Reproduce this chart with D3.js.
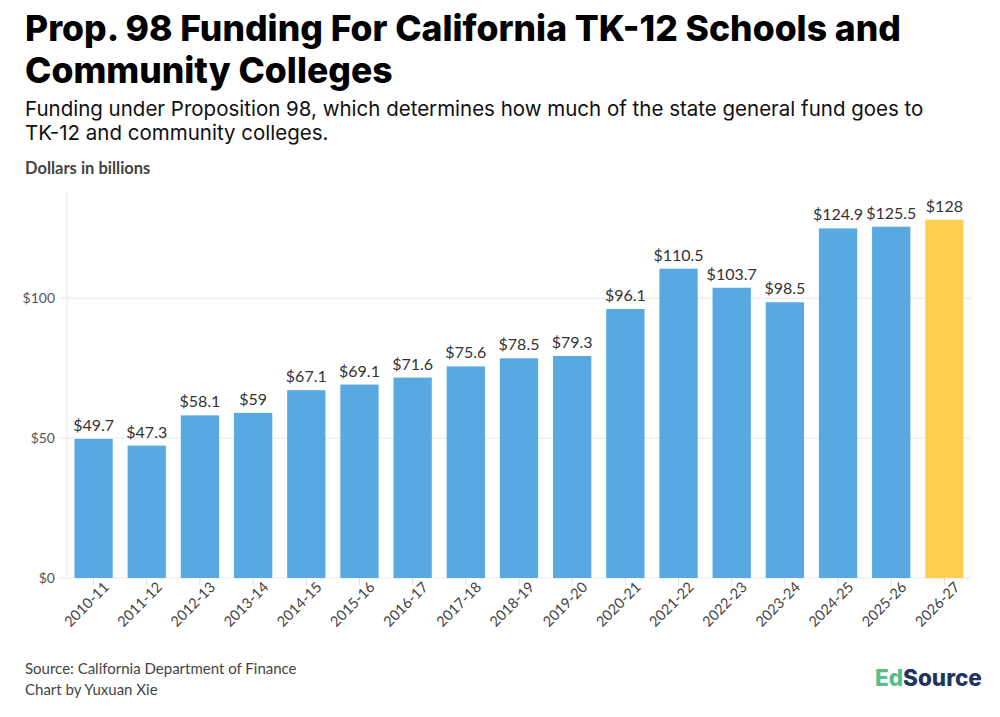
<!DOCTYPE html>
<meta charset="utf-8">
<html>
<head>
    <title>Prop. 98 Funding</title>
    <style>
        body { margin: 0; background: #fff; }
        svg text { font-family: "Lato", sans-serif; }
    </style>
    <script src="https://d3js.org/d3.v7.min.js"></script>
</head>
<body>
    <div id="chart-container"></div>
    <script>
        // data
        const years = ["2010-11", "2011-12", "2012-13", "2013-14", "2014-15", "2015-16", "2016-17",
            "2017-18", "2018-19", "2019-20", "2020-21", "2021-22", "2022-23", "2023-24",
            "2024-25", "2025-26", "2026-27"];
        const funding = [49.7, 47.3, 58.1, 59, 67.1, 69.1, 71.6, 75.6, 78.5, 79.3, 96.1, 110.5,
            103.7, 98.5, 124.9, 125.5, 128];
        const yTicks = [0, 50, 100];

        const data = years.map((y, i) => ({ year: y, value: funding[i] }));

        var width = 1000, height = 717;
        var plot = { left: 67, right: 971, top: 192, bottom: 578 };

        var svg = d3.select("#chart-container")
            .append("svg")
            .attr("width", width)
            .attr("height", height);

        // titles
        var title = svg.append("text")
            .attr("x", 25)
            .style("font-family", "Inter, sans-serif")
            .style("font-weight", 800)
            .style("font-size", "35.5px")
            .attr("fill", "#000");
        title.append("tspan").attr("x", 25).attr("y", 41).text("Prop. 98 Funding For California TK-12 Schools and");
        title.append("tspan").attr("x", 25).attr("y", 83).text("Community Colleges");

        var sub = svg.append("text")
            .style("font-family", "Inter, sans-serif")
            .style("font-size", "20.5px")
            .attr("fill", "#111");
        sub.append("tspan").attr("x", 25).attr("y", 116).text("Funding under Proposition 98, which determines how much of the state general fund goes to");
        sub.append("tspan").attr("x", 25).attr("y", 140).text("TK-12 and community colleges.");

        svg.append("text")
            .attr("x", 25).attr("y", 174)
            .style("font-size", "16.5px")
            .style("font-weight", "bold")
            .attr("fill", "#444")
            .text("Dollars in billions");

        // scales
        var x = d3.scaleBand()
            .domain(years)
            .range([plot.left, plot.right])
            .paddingInner(0.28)
            .paddingOuter(0.14);

        var y = d3.scaleLinear()
            .domain([0, 137.9])
            .range([plot.bottom, plot.top]);

        // gridlines
        svg.append("g")
            .selectAll("line")
            .data(yTicks)
            .enter().append("line")
            .attr("x1", 60).attr("x2", plot.right)
            .attr("y1", d => y(d)).attr("y2", d => y(d))
            .attr("stroke", "#ebebeb")
            .attr("stroke-width", 1.2);

        svg.append("line")
            .attr("x1", plot.left).attr("x2", plot.left)
            .attr("y1", plot.top).attr("y2", plot.bottom)
            .attr("stroke", "#ebebeb")
            .attr("stroke-width", 1.2);

        // y labels
        svg.append("g")
            .selectAll("text")
            .data(yTicks)
            .enter().append("text")
            .attr("x", 55)
            .attr("y", d => y(d) + 5)
            .attr("text-anchor", "end")
            .style("font-size", "14px")
            .attr("fill", "#555")
            .text(d => "$" + d);

        // bars
        svg.append("g")
            .selectAll("rect")
            .data(data)
            .enter().append("rect")
            .attr("x", d => x(d.year))
            .attr("width", x.bandwidth())
            .attr("y", d => y(d.value))
            .attr("height", d => y(0) - y(d.value))
            .attr("fill", (d, i) => i === data.length - 1 ? "#ffd050" : "#58a9e1");

        // value labels
        svg.append("g")
            .selectAll("text")
            .data(data)
            .enter().append("text")
            .attr("x", d => x(d.year) + x.bandwidth() / 2)
            .attr("y", d => y(d.value) - 8)
            .attr("text-anchor", "middle")
            .style("font-size", "16px")
            .attr("fill", "#333")
            .text(d => "$" + d.value);

        // x axis
        var xAxis = svg.append("g")
            .attr("transform", "translate(0," + plot.bottom + ")")
            .call(d3.axisBottom(x).tickSize(7).tickSizeOuter(0));
        xAxis.select(".domain").remove();
        xAxis.selectAll(".tick line").attr("stroke", "#ddd");
        xAxis.selectAll(".tick text")
            .attr("fill", "#444")
            .style("font-family", "Lato, sans-serif")
            .style("font-size", "14.5px")
            .attr("text-anchor", "end")
            .attr("dx", "0.3em")
            .attr("dy", "0.6em")
            .attr("transform", "rotate(-45)");

        // footer
        svg.append("text")
            .attr("x", 25).attr("y", 674)
            .style("font-size", "15px")
            .attr("fill", "#444")
            .text("Source: California Department of Finance");
        svg.append("text")
            .attr("x", 25).attr("y", 695)
            .style("font-size", "15px")
            .attr("fill", "#444")
            .text("Chart by Yuxuan Xie");

        var logo = svg.append("text")
            .attr("x", 875).attr("y", 686)
            .style("font-family", "Inter, sans-serif")
            .style("font-weight", 800)
            .style("font-size", "22.5px");
        logo.append("tspan").attr("fill", "#56bd8b").text("Ed");
        logo.append("tspan").attr("fill", "#1e3560").text("Source");
    </script>
</body>
</html>
